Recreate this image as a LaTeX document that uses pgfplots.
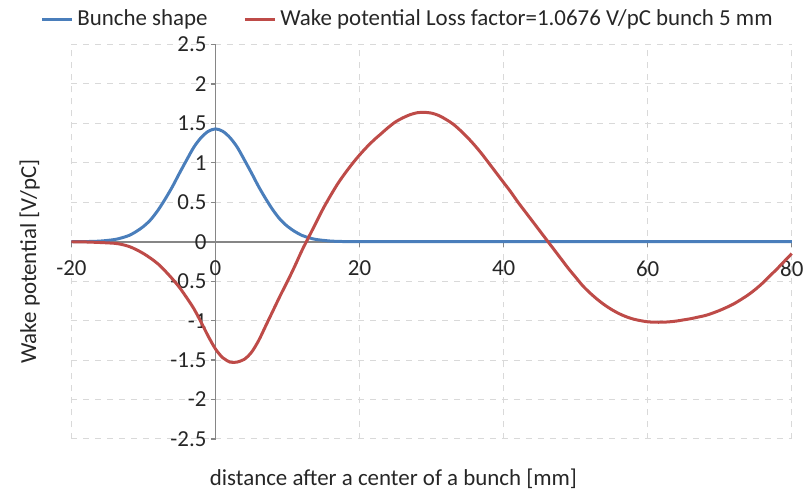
\documentclass[border=0pt]{standalone}
\usepackage{pgfplots}
\pgfplotsset{compat=1.18}
\usepackage{fontspec}
\setmainfont{Carlito}
\definecolor{exblue}{HTML}{4A7EBB}
\definecolor{exred}{HTML}{BE4B48}
\definecolor{axgray}{HTML}{868686}
\definecolor{gridgray}{HTML}{D9D9D9}
\definecolor{txt}{HTML}{262626}
\begin{document}
\fontsize{11.5}{13.8}\selectfont
\begin{tikzpicture}
\begin{axis}[
  scale only axis,
  width=361.5pt, height=198pt,
  xmin=-20, xmax=80, ymin=-2.5, ymax=2.5,
  axis x line=middle, axis y line=middle,
  axis line style={-, draw=axgray, line width=0.9pt},
  hide obscured x ticks=false, hide obscured y ticks=false,
  xtick={-20,0,20,40,60,80},
  ytick={-2.5,-2,-1.5,-1,-0.5,0,0.5,1,1.5,2,2.5},
  yticklabels={-2.5,-2,-1.5,-1,-0.5,0,0.5,1,1.5,2,2.5},
  xticklabels={-20,0,20,40,60,80},
  tick align=outside,
  major tick length=2.5pt,
  tick style={draw=axgray, line width=0.6pt},
  ticklabel style={text=txt},
  xticklabel style={yshift=-3pt},
  yticklabel style={xshift=2pt},
  /pgf/number format/assume math mode=true,
  grid=major,
  major grid style={draw=gridgray, dashed, line width=0.5pt},
  xlabel={distance after a center of a bunch [mm]},
  ylabel={Wake potential [V/pC]},
  every axis x label/.style={at={(axis description cs:0.447,-0.10)}, anchor=center, text=txt},
  every axis y label/.style={at={(axis description cs:-0.058,0.45)}, rotate=90, anchor=center, text=txt},
  legend style={at={(axis description cs:0.468,1.063)}, anchor=center, draw=none, fill=none,
    legend columns=2, /tikz/every even column/.append style={column sep=16pt},
    font=\fontsize{11.5}{13.8}\selectfont, text=txt, inner sep=0pt},
  legend image code/.code={\draw[#1, line width=1.5pt] (0pt,0pt) -- (15pt,0pt);},
  clip=false,
]
\addplot[exblue, line width=1.5pt, smooth] coordinates {
(-20,0.0005) (-18,0.0022) (-16,0.0085) (-14,0.028) (-13,0.05) (-12,0.080) (-11,0.13) (-10,0.194)
(-9,0.28) (-8,0.398) (-7,0.54) (-6,0.696) (-5,0.87) (-4,1.038) (-3,1.20) (-2,1.32) (-1,1.40)
(0,1.43) (1,1.40) (2,1.32) (3,1.20) (4,1.038) (5,0.87) (6,0.696) (7,0.54) (8,0.398) (9,0.28)
(10,0.194) (11,0.13) (12,0.080) (13,0.05) (14,0.028) (16,0.0085) (18,0.0022) (20,0.0005)
(25,0) (30,0) (40,0) (50,0) (60,0) (70,0) (80,0)
};
\addlegendentry{Bunche shape}
\addplot[exred, line width=1.5pt, smooth] coordinates {
(-20,0) (-18,-0.003) (-16,-0.01) (-14,-0.02) (-13,-0.035) (-12,-0.06) (-11,-0.10) (-10,-0.15)
(-9,-0.21) (-8,-0.28) (-7,-0.37) (-6,-0.47) (-5,-0.58) (-4,-0.71) (-3,-0.85) (-2,-1.02)
(-1,-1.20) (0,-1.36) (1,-1.47) (2,-1.525) (2.5,-1.53) (3,-1.525) (4,-1.49) (5,-1.40)
(6,-1.25) (7,-1.06) (8,-0.87) (9,-0.68) (10,-0.50) (11,-0.31) (12,-0.11) (13,0.07)
(14,0.25) (15,0.43) (16,0.59) (17,0.74) (18,0.87) (19,0.99) (20,1.10) (21,1.20) (22,1.29)
(23,1.37) (24,1.45) (25,1.52) (26,1.57) (27,1.61) (28,1.635) (29,1.64) (30,1.63) (31,1.60)
(32,1.55) (33,1.49) (34,1.41) (35,1.32) (36,1.22) (37,1.11) (38,0.99) (39,0.87) (40,0.75)
(41,0.63) (42,0.50) (43,0.38) (44,0.26) (45,0.14) (46,0.02) (47,-0.10) (48,-0.22) (49,-0.34)
(50,-0.45) (51,-0.56) (52,-0.65) (53,-0.73) (54,-0.80) (55,-0.86) (56,-0.91) (57,-0.95)
(58,-0.98) (59,-1.00) (60,-1.015) (61,-1.02) (62,-1.02) (63,-1.015) (64,-1.005) (65,-0.99)
(66,-0.975) (67,-0.955) (68,-0.935) (69,-0.905) (70,-0.87) (71,-0.83) (72,-0.785) (73,-0.73)
(74,-0.67) (75,-0.60) (76,-0.52) (77,-0.43) (78,-0.34) (79,-0.245) (80,-0.15)
};
\addlegendentry{Wake potential Loss factor=1.0676 V/pC bunch 5 mm}
\end{axis}
\path ([xshift=-6pt]current axis.outer west);
\path ([yshift=3pt]current axis.outer north);
\path ([yshift=-3pt]current axis.outer south);
\end{tikzpicture}
\end{document}
